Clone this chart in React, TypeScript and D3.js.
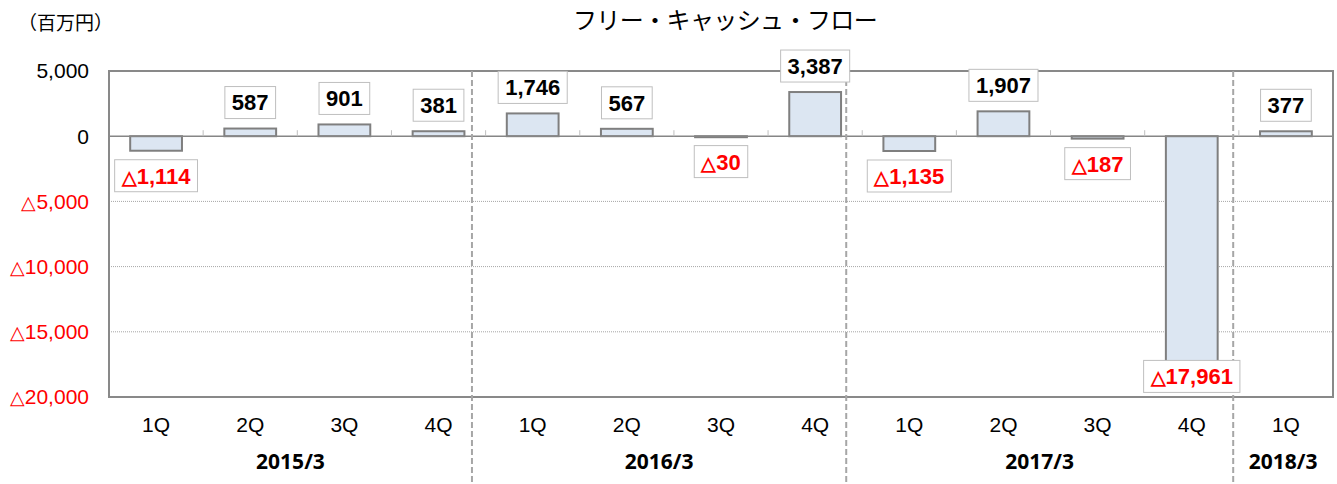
import React, { useEffect, useRef } from 'react';
import * as d3 from 'd3';

// quarterly free cash flow, 百万円
const quarters = ['1Q', '2Q', '3Q', '4Q', '1Q', '2Q', '3Q', '4Q', '1Q', '2Q', '3Q', '4Q', '1Q'];
const values = [-1114, 587, 901, 381, 1746, 567, -30, 3387, -1135, 1907, -187, -17961, 377];
const fiscalYears = ['2015/3', '2016/3', '2017/3', '2018/3'];
// separators sit slightly left of the category boundary, in category units
const separators = [3.855, 7.83, 11.94];
const yTicks = [5000, 0, -5000, -10000, -15000, -20000];

const W = 1337;
const H = 484;
const margin = { top: 71, right: 4, bottom: 87, left: 109 };

const fmt = d3.format(',');

const App: React.FC = () => {
  const svgRef = useRef<SVGSVGElement>(null);

  useEffect(() => {
    document.body.style.margin = '0';
    if (!svgRef.current) return;
    const svg = d3.select(svgRef.current);
    svg.selectAll('*').remove();

    const innerW = W - margin.left - margin.right;
    const innerH = H - margin.top - margin.bottom;

    const x = d3.scaleBand<number>()
      .domain(d3.range(values.length))
      .range([margin.left, margin.left + innerW])
      .paddingInner(0.45)
      .paddingOuter(0.225);
    const step = innerW / values.length;
    const xc = (i: number) => margin.left + step * i; // boundary position in category units

    const y = d3.scaleLinear()
      .domain([-20000, 5000])
      .range([margin.top + innerH, margin.top]);

    // grid lines
    svg.append('g')
      .selectAll('line')
      .data(yTicks.filter(t => t < 0 && t > -20000))
      .enter()
      .append('line')
      .attr('x1', margin.left)
      .attr('x2', margin.left + innerW)
      .attr('y1', d => y(d))
      .attr('y2', d => y(d))
      .attr('stroke', '#a6a6a6')
      .attr('stroke-width', 1)
      .attr('stroke-dasharray', '1,1');

    // y tick labels
    const yl = svg.append('g')
      .attr('font-family', '"Liberation Sans", Arial, sans-serif')
      .attr('font-size', 21);
    yTicks.forEach(t => {
      const txt = yl.append('text')
        .attr('x', 89)
        .attr('y', y(t))
        .attr('dy', '0.35em')
        .attr('text-anchor', 'end')
        .attr('fill', t < 0 ? '#ff0000' : '#000');
      if (t < 0) {
        txt.append('tspan').attr('font-size', 19).text('△');
        txt.append('tspan').text(fmt(-t));
      } else {
        txt.text(fmt(t));
      }
    });

    // bars
    svg.append('g')
      .selectAll('rect')
      .data(values)
      .enter()
      .append('rect')
      .attr('x', (_, i) => x(i)!)
      .attr('width', x.bandwidth())
      .attr('y', d => y(Math.max(0, d)))
      .attr('height', d => Math.max(1, Math.abs(y(d) - y(0))))
      .attr('fill', '#dce6f2')
      .attr('stroke', '#7f7f7f')
      .attr('stroke-width', 2);

    // zero line and tick marks
    svg.append('line')
      .attr('x1', margin.left)
      .attr('x2', margin.left + innerW)
      .attr('y1', y(0))
      .attr('y2', y(0))
      .attr('stroke', '#868686')
      .attr('stroke-width', 1.5);
    svg.append('g')
      .selectAll('line')
      .data(d3.range(1, values.length))
      .enter()
      .append('line')
      .attr('x1', d => xc(d))
      .attr('x2', d => xc(d))
      .attr('y1', y(0) - 6)
      .attr('y2', y(0))
      .attr('stroke', '#bfbfbf')
      .attr('stroke-width', 1);

    // frame
    svg.append('rect')
      .attr('x', margin.left)
      .attr('y', margin.top)
      .attr('width', innerW)
      .attr('height', innerH)
      .attr('fill', 'none')
      .attr('stroke', '#898989')
      .attr('stroke-width', 2);

    // fiscal year separators
    svg.append('g')
      .selectAll('line')
      .data(separators)
      .enter()
      .append('line')
      .attr('x1', d => xc(d))
      .attr('x2', d => xc(d))
      .attr('y1', margin.top)
      .attr('y2', H)
      .attr('stroke', '#a6a6a6')
      .attr('stroke-width', 2)
      .attr('stroke-dasharray', '6,3');

    // value labels
    const lg = svg.append('g')
      .attr('font-family', '"Liberation Sans", Arial, sans-serif')
      .attr('font-weight', 'bold')
      .attr('font-size', 22);
    values.forEach((v, i) => {
      const cx = x(i)! + x.bandwidth() / 2;
      const boxH = 32;
      let top: number;
      if (v >= 0) top = y(v) - 10 - boxH;
      else if (v < -15000) top = y(v) - 10;
      else top = y(v) + 9;
      const rect = lg.append('rect')
        .attr('y', top)
        .attr('height', boxH)
        .attr('fill', '#fff')
        .attr('stroke', '#bfbfbf')
        .attr('stroke-width', 1);
      const txt = lg.append('text')
        .attr('x', cx)
        .attr('y', top + boxH / 2)
        .attr('dy', '0.36em')
        .attr('text-anchor', 'middle')
        .attr('fill', v < 0 ? '#ff0000' : '#000');
      if (v < 0) {
        txt.append('tspan').attr('font-size', 19).text('△');
        txt.append('tspan').text(fmt(-v));
      } else {
        txt.text(fmt(v));
      }
      const w = (txt.node() as SVGTextElement).getComputedTextLength() + 14;
      rect.attr('x', cx - w / 2).attr('width', w);
    });

    // quarter labels
    svg.append('g')
      .selectAll('text')
      .data(quarters)
      .enter()
      .append('text')
      .attr('x', (_, i) => x(i)! + x.bandwidth() / 2)
      .attr('y', 432)
      .attr('text-anchor', 'middle')
      .attr('font-family', '"Liberation Sans", Arial, sans-serif')
      .attr('font-size', 21)
      .text(d => d);

    // fiscal year labels, centered between separators
    const bounds = [0, ...separators, values.length];
    svg.append('g')
      .selectAll('text')
      .data(fiscalYears)
      .enter()
      .append('text')
      .attr('x', (_, i) => (xc(bounds[i]) + xc(bounds[i + 1])) / 2)
      .attr('y', 469)
      .attr('text-anchor', 'middle')
      .attr('font-family', '"Noto Sans", sans-serif')
      .attr('font-weight', 'bold')
      .attr('font-size', 21)
      .text(d => d);

    // title and unit
    svg.append('text')
      .attr('x', 725)
      .attr('y', 29)
      .attr('text-anchor', 'middle')
      .attr('font-family', '"Noto Sans CJK JP", sans-serif')
      .attr('font-size', 24)
      .attr('letter-spacing', -0.6)
      .text('フリー・キャッシュ・フロー');
    svg.append('text')
      .attr('x', 18)
      .attr('y', 30)
      .attr('font-family', '"Noto Sans CJK JP", sans-serif')
      .attr('font-size', 19)
      .text('（百万円）');
  }, []);

  return <svg ref={svgRef} width={W} height={H} style={{ display: 'block', background: '#fff' }} />;
};

export default App;
